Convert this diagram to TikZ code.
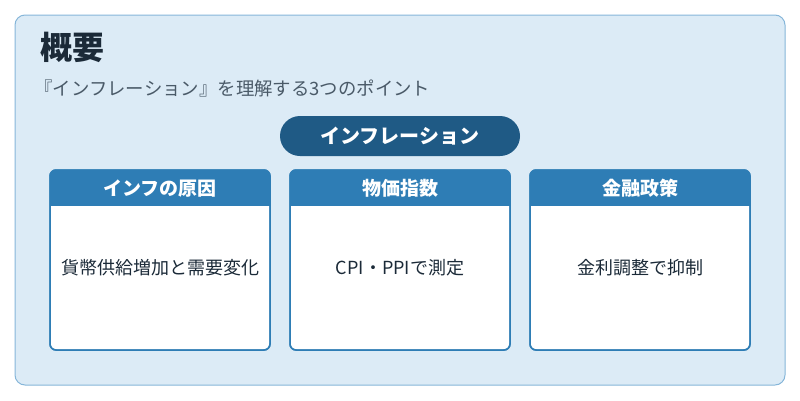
\documentclass[tikz,border=0pt]{standalone}
\usepackage{fontspec}
\setmainfont{Noto Sans CJK JP}
\usetikzlibrary{positioning}
\definecolor{panelbg}{HTML}{DCEBF6}
\definecolor{panelline}{HTML}{86B6D9}
\definecolor{headblue}{HTML}{2E7DB5}
\definecolor{pillblue}{HTML}{1F5A85}
\definecolor{titletext}{HTML}{1B2A38}
\definecolor{subtext}{HTML}{4A5A68}
\tikzset{
  card/.style={draw=headblue, line width=1.5pt, fill=white, rounded corners=6pt, minimum width=220pt, minimum height=180pt},
  cardhead/.style={fill=headblue, text=white, font=\bfseries\fontsize{19}{22}\selectfont, minimum width=220pt, minimum height=36pt},
  cardtext/.style={text=titletext, font=\fontsize{18}{21}\selectfont}
}
\begin{document}
\begin{tikzpicture}[x=1pt,y=-1pt]
  \useasboundingbox (0,0) rectangle (800,400);
  \draw[panelline, fill=panelbg, line width=1pt, rounded corners=10pt] (15,15) rectangle (785,385);
  \node[anchor=west, text=titletext, font=\bfseries\fontsize{32}{36}\selectfont] (title) at (37,47) {概要};
  \node[anchor=west, text=subtext, font=\fontsize{18.4}{21}\selectfont] (sub) at (31,88) {『インフレーション』を理解する3つのポイント};
  \node[fill=pillblue, text=white, rounded corners=20pt, minimum width=240pt, minimum height=40pt, font=\bfseries\fontsize{20}{23}\selectfont] (pill) at (400,136) {インフレーション};
  \foreach \cx/\head/\body [count=\i] in {160/インフの原因/貨幣供給増加と需要変化, 400/物価指数/CPI・PPIで測定, 640/金融政策/金利調整で抑制} {
    \node[card] (card\i) at (\cx,260) {};
    \begin{scope}
      \clip[rounded corners=6pt] (\cx-110,170) rectangle (\cx+110,350);
      \node[cardhead, anchor=north] (head\i) at (\cx,170) {\head};
    \end{scope}
    \draw[headblue, line width=1.5pt, rounded corners=6pt] (\cx-110,170) rectangle (\cx+110,350);
    \node[cardtext] (body\i) at (\cx,268) {\body};
  }
\end{tikzpicture}
\end{document}
